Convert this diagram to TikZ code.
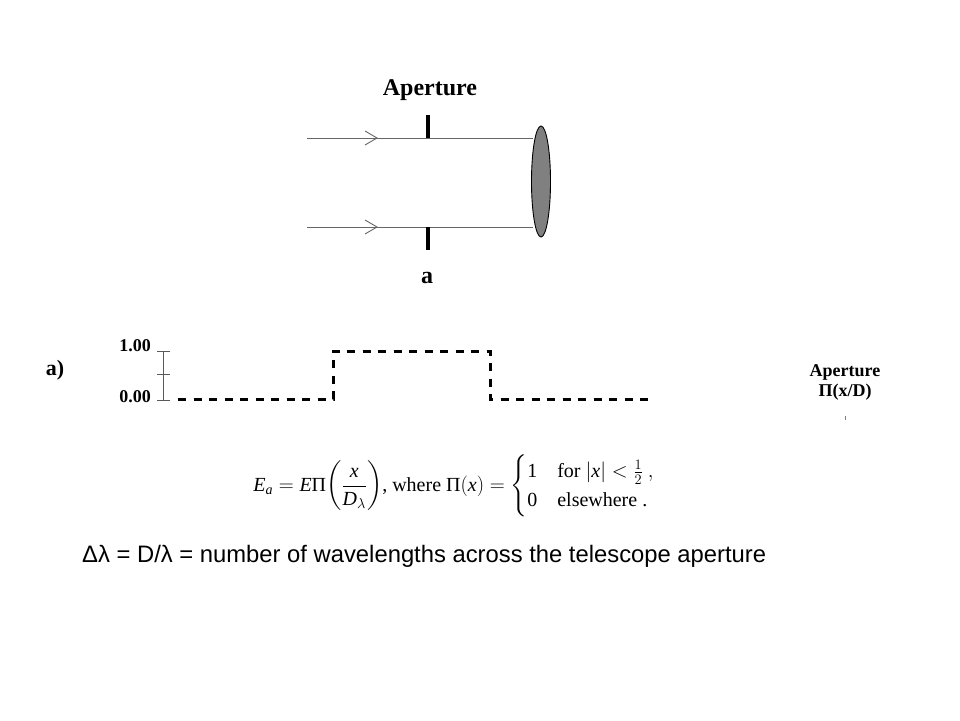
\documentclass[tikz,border=0pt]{standalone}
\usepackage{amsmath}
\usepackage{fontspec}
\setmainfont{Liberation Serif}
\newfontfamily\arialfont{Liberation Sans}
\usetikzlibrary{shapes.geometric}
\begin{document}
\begin{tikzpicture}[x=1pt,y=-1pt,
  ray/.style={draw=black!60, line width=0.9pt},
  chev/.style={draw=black!60, line width=0.9pt},
  stopbar/.style={draw=black, line width=3.5pt},
  lensshape/.style={draw=black, line width=0.9pt, fill=black!50},
  sig/.style={draw=black, line width=3pt, dash pattern=on 8pt off 7.5pt},
  axisln/.style={draw=black!65, line width=1pt},
  lbl/.style={inner sep=0pt, font=\fontsize{24}{28}\selectfont\bfseries},
  smalllbl/.style={inner sep=0pt, font=\fontsize{18}{21}\selectfont\bfseries},
  ticklbl/.style={inner sep=0pt, anchor=east, font=\fontsize{18}{21}\selectfont\bfseries}]
\useasboundingbox (0,0) rectangle (960,720);
\fill[white] (0,0) rectangle (960,720);

% top optical sketch
\node[lbl] (aptitle) at (430,90) {Aperture};
\node[lbl] (alabel) at (427,278) {a};
\coordinate (r1s) at (307,138);
\coordinate (r1e) at (533,138);
\coordinate (r2s) at (307,227);
\coordinate (r2e) at (533,227);
\draw[ray] (r1s) -- (r1e);
\draw[ray] (r2s) -- (r2e);
\draw[chev] (365,131) -- (377,138) -- (365,145);
\draw[chev] (365,220) -- (377,227) -- (365,234);
\coordinate (s1a) at (428,115);
\coordinate (s1b) at (428,138);
\coordinate (s2a) at (428,227);
\coordinate (s2b) at (428,250);
\draw[stopbar] (s1a) -- (s1b);
\draw[stopbar] (s2a) -- (s2b);
\node[lensshape, ellipse, minimum width=19pt, minimum height=111pt, inner sep=0pt] (lens) at (541,181.5) {};

% aperture function plot
\node[inner sep=0pt, font=\fontsize{22}{26}\selectfont\bfseries] (alab) at (55,370) {a)};
\node[ticklbl] (one) at (151,346) {1.00};
\node[ticklbl] (zero) at (151,397) {0.00};
\coordinate (ytop) at (163,351);
\coordinate (ymid) at (163,374);
\coordinate (ybot) at (163,400);
\draw[axisln] (ytop) -- (ybot);
\draw[axisln] (157,351) -- (170,351);
\draw[axisln] (157,374) -- (170,374);
\draw[axisln] (157,400) -- (170,400);
\draw[sig] (178,399) -- (333,399) -- (333,351) -- (490,351) -- (490,399) -- (652,399);

\node[smalllbl] (aplab) at (845,372) {Aperture};
\node[smalllbl] (pilab) at (845,392) {Π(x/D)};
\draw[black!50, line width=0.8pt] (845,416) -- (845,420);

% equation
\node[inner sep=0pt, font=\fontsize{20}{24}\selectfont] (eq) at (454,486)
 {$\textit{E}_{\textit{a}} = \textit{E}\text{Π}\!\left(\dfrac{\textit{x}}{\textit{D}_{\lambda}}\right)$, where $\text{Π}(\textit{x}) = {\def\arraystretch{0.85}\begin{cases} \text{1} & \text{for } |\textit{x}| < \frac{1}{2}\ , \\ \text{0} & \text{elsewhere .}\end{cases}}$};

% bottom text
\node[inner sep=0pt, anchor=west, font=\fontsize{23.8}{27}\selectfont\arialfont] (note) at (82,556)
 {Δλ = D/λ = number of wavelengths across the telescope aperture};
\end{tikzpicture}
\end{document}
